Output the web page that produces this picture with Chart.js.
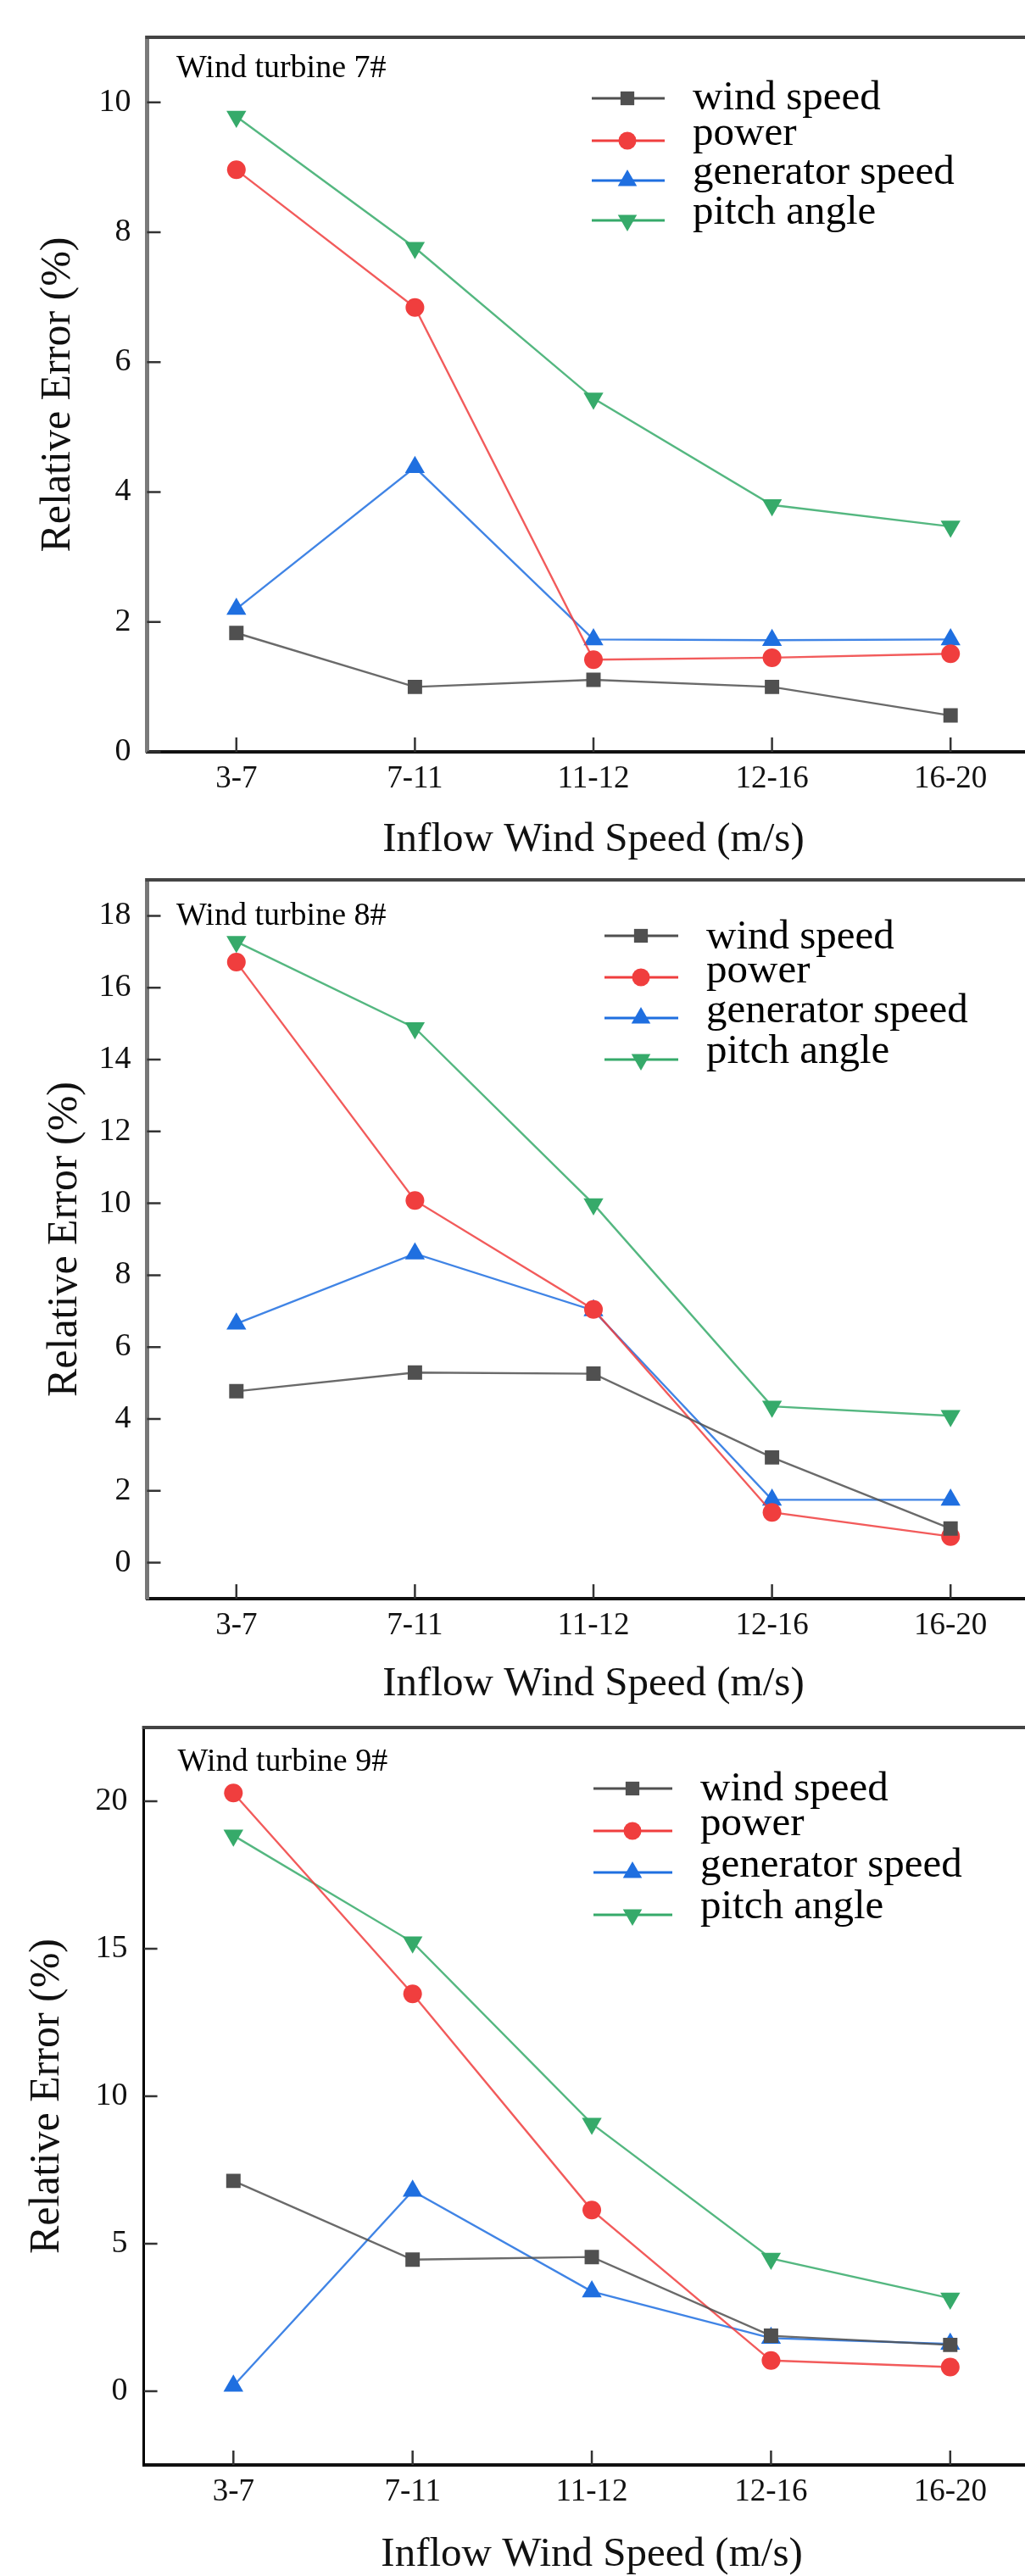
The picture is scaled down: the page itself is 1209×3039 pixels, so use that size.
<!DOCTYPE html>
<html>
<head>
<meta charset="utf-8">
<script src="https://cdn.jsdelivr.net/npm/chart.js@4.4.1/dist/chart.umd.min.js"></script>
<style>
  html, body { margin: 0; padding: 0; background: #fff; overflow: hidden; width: 1209px; height: 3039px; }
  canvas { position: absolute; left: 0; }
</style>
</head>
<body>
<canvas id="c7"></canvas>
<canvas id="c8"></canvas>
<canvas id="c9"></canvas>
<script>
// data
const categories = ['3-7', '7-11', '11-12', '12-16', '16-20'];
const seriesNames = ['wind speed', 'power', 'generator speed', 'pitch angle'];

const windSpeed7 = [1.83, 1.00, 1.11, 1.00, 0.56];
const power7 = [8.96, 6.84, 1.42, 1.45, 1.51];
const generatorSpeed7 = [2.20, 4.38, 1.73, 1.72, 1.73];
const pitchAngle7 = [9.78, 7.76, 5.44, 3.80, 3.47];
const yTicks7 = [0, 2, 4, 6, 8, 10];
const yRange7 = [0, 11];

const windSpeed8 = [4.77, 5.29, 5.26, 2.93, 0.95];
const power8 = [16.71, 10.08, 7.05, 1.40, 0.73];
const generatorSpeed8 = [6.65, 8.60, 7.02, 1.75, 1.75];
const pitchAngle8 = [17.28, 14.88, 9.98, 4.35, 4.09];
const yTicks8 = [0, 2, 4, 6, 8, 10, 12, 14, 16, 18];
const yRange8 = [-1, 19];

const windSpeed9 = [7.13, 4.46, 4.55, 1.88, 1.57];
const power9 = [20.28, 13.47, 6.14, 1.04, 0.82];
const generatorSpeed9 = [0.18, 6.79, 3.38, 1.80, 1.60];
const pitchAngle9 = [18.84, 15.22, 9.07, 4.50, 3.15];
const yTicks9 = [0, 5, 10, 15, 20];
const yRange9 = [-2.5, 22.5];

const SERIF = '"Liberation Serif", "Times New Roman", serif';
const CANVAS_W = 1240;

const seriesStyle = [
  { color: '#505050', line: 'rgba(80,80,80,0.85)', pointStyle: 'rect', radius: 12, rotation: 0, legendRadius: 11.5 },
  { color: '#f03e3e', line: 'rgba(240,62,62,0.85)', pointStyle: 'circle', radius: 11, rotation: 0, legendRadius: 10.5 },
  { color: '#1f6fe0', line: 'rgba(31,111,224,0.85)', pointStyle: 'triangle', radius: 13.5, rotation: 0, legendRadius: 13 },
  { color: '#36aa6a', line: 'rgba(54,170,106,0.85)', pointStyle: 'triangle', radius: 13.5, rotation: 180, legendRadius: 13 },
];

// tick marks pointing into the plot, plus the top frame line
const innerTicks = {
  id: 'innerTicks',
  afterDraw(chart) {
    const { ctx, chartArea } = chart;
    const x = chart.scales.x, y = chart.scales.y;
    ctx.save();
    ctx.strokeStyle = '#333';
    ctx.lineWidth = 2.5;
    ctx.beginPath();
    x.ticks.forEach((t, i) => {
      const px = x.getPixelForTick(i);
      ctx.moveTo(px, chartArea.bottom);
      ctx.lineTo(px, chartArea.bottom - 17);
    });
    y.ticks.forEach(t => {
      const py = y.getPixelForValue(t.value);
      ctx.moveTo(chartArea.left, py);
      ctx.lineTo(chartArea.left + 16, py);
    });
    ctx.stroke();
    ctx.strokeStyle = '#444';
    ctx.lineWidth = 4;
    ctx.beginPath();
    ctx.moveTo(chartArea.left - 2, chartArea.top);
    ctx.lineTo(chartArea.right, chartArea.top);
    ctx.stroke();
    ctx.restore();
  }
};

// legend with line + marker samples
const lineLegend = {
  id: 'lineLegend',
  afterDraw(chart, args, opts) {
    const { ctx, chartArea } = chart;
    ctx.save();
    chart.data.datasets.forEach((ds, i) => {
      const st = seriesStyle[i];
      const ly = chartArea.top + opts.lineRows[i];
      ctx.strokeStyle = st.color;
      ctx.lineWidth = 3;
      ctx.beginPath();
      ctx.moveTo(opts.lineStart, ly);
      ctx.lineTo(opts.lineEnd, ly);
      ctx.stroke();
      ctx.fillStyle = st.color;
      Chart.helpers.drawPoint(ctx, { pointStyle: st.pointStyle, radius: st.legendRadius, rotation: st.rotation, borderWidth: 0 }, opts.markerX, ly);
      ctx.fillStyle = '#000';
      ctx.font = '49px ' + SERIF;
      ctx.textAlign = 'left';
      ctx.textBaseline = 'alphabetic';
      ctx.fillText(ds.label, opts.textX, chartArea.top + opts.textRows[i]);
    });
    ctx.restore();
  }
};

const panelTitle = {
  id: 'panelTitle',
  afterDraw(chart, args, opts) {
    const { ctx, chartArea } = chart;
    ctx.save();
    ctx.fillStyle = '#000';
    ctx.font = '38px ' + SERIF;
    ctx.textAlign = 'left';
    ctx.textBaseline = 'alphabetic';
    ctx.fillText(opts.text, chartArea.left + opts.dx, chartArea.top + opts.dy);
    ctx.restore();
  }
};

function makeChart(id, lay, series, yTicks, yRange, title) {
  const canvas = document.getElementById(id);
  canvas.width = CANVAS_W;
  canvas.height = lay.canvasH;
  canvas.style.top = lay.canvasTop + 'px';
  canvas.style.width = CANVAS_W + 'px';
  canvas.style.height = lay.canvasH + 'px';

  const datasets = series.map((vals, i) => ({
    label: seriesNames[i],
    data: vals,
    borderColor: seriesStyle[i].line,
    borderWidth: 2.4,
    pointStyle: seriesStyle[i].pointStyle,
    pointRadius: seriesStyle[i].radius,
    pointRotation: seriesStyle[i].rotation,
    pointBackgroundColor: seriesStyle[i].color,
    pointBorderWidth: 0,
    tension: 0,
    fill: false,
  }));

  return new Chart(canvas, {
    type: 'line',
    data: { labels: categories, datasets: datasets },
    options: {
      responsive: false,
      animation: false,
      devicePixelRatio: 1,
      layout: { padding: { left: 0, top: lay.top, right: CANVAS_W - lay.right, bottom: 0 } },
      plugins: {
        legend: { display: false },
        tooltip: { enabled: false },
        lineLegend: lay.legend,
        panelTitle: { text: title, dx: lay.titleDx, dy: lay.titleDy },
      },
      scales: {
        x: {
          type: 'category',
          offset: true,
          afterFit: s => { s.height = lay.canvasH - lay.bottom; },
          grid: { display: false, drawTicks: false },
          border: { display: true, color: '#111', width: 4 },
          ticks: { padding: 14, color: '#111', maxRotation: 0, autoSkip: false, font: { family: SERIF, size: 37, lineHeight: 1 } },
          title: {
            display: true, text: 'Inflow Wind Speed (m/s)', color: '#111',
            font: { family: SERIF, size: 49, lineHeight: 1 },
            padding: { top: 0, bottom: lay.xTitlePad },
          },
        },
        y: {
          min: yRange[0],
          max: yRange[1],
          afterBuildTicks: s => { s.ticks = yTicks.map(v => ({ value: v })); },
          afterFit: s => { s.width = lay.left; },
          grid: { display: false, drawTicks: false },
          border: { display: true, color: lay.yAxisColor, width: lay.yAxisWidth },
          ticks: { padding: 19, color: '#111', font: { family: SERIF, size: 38, lineHeight: 1 } },
          title: {
            display: true, text: 'Relative Error (%)', color: '#111',
            font: { family: SERIF, size: 50, lineHeight: 1 },
            padding: { top: lay.yTitlePad, bottom: 0 },
          },
        },
      },
    },
    plugins: [innerTicks, lineLegend, panelTitle],
  });
}

makeChart('c7', {
  canvasTop: 0, canvasH: 1040, left: 173.5, top: 44, right: 1228, bottom: 887,
  xTitlePad: 24, yTitlePad: 44, yAxisColor: '#7a7a7a', yAxisWidth: 5,
  titleDx: 34.5, titleDy: 47,
  legend: { lineStart: 698, lineEnd: 784, markerX: 740, textX: 817, lineRows: [72, 122, 169, 216], textRows: [85, 127, 173, 220] },
}, [windSpeed7, power7, generatorSpeed7, pitchAngle7], yTicks7, yRange7, 'Wind turbine 7#');

makeChart('c8', {
  canvasTop: 1000, canvasH: 1040, left: 173.5, top: 32.5, right: 1235.7, bottom: 886,
  xTitlePad: 28, yTitlePad: 52, yAxisColor: '#777', yAxisWidth: 5,
  titleDx: 34.5, titleDy: 53,
  legend: { lineStart: 713, lineEnd: 800, markerX: 756, textX: 833, lineRows: [66, 115, 163, 212], textRows: [81, 121, 168, 216] },
}, [windSpeed8, power8, generatorSpeed8, pitchAngle8], yTicks8, yRange8, 'Wind turbine 8#');

makeChart('c9', {
  canvasTop: 2000, canvasH: 1039, left: 169.6, top: 38, right: 1233.6, bottom: 908,
  xTitlePad: 0, yTitlePad: 31, yAxisColor: '#000', yAxisWidth: 3,
  titleDx: 40, titleDy: 51,
  legend: { lineStart: 700, lineEnd: 793, markerX: 746, textX: 826, lineRows: [72, 122, 171, 221], textRows: [86, 127, 176, 225] },
}, [windSpeed9, power9, generatorSpeed9, pitchAngle9], yTicks9, yRange9, 'Wind turbine 9#');
</script>
</body>
</html>
